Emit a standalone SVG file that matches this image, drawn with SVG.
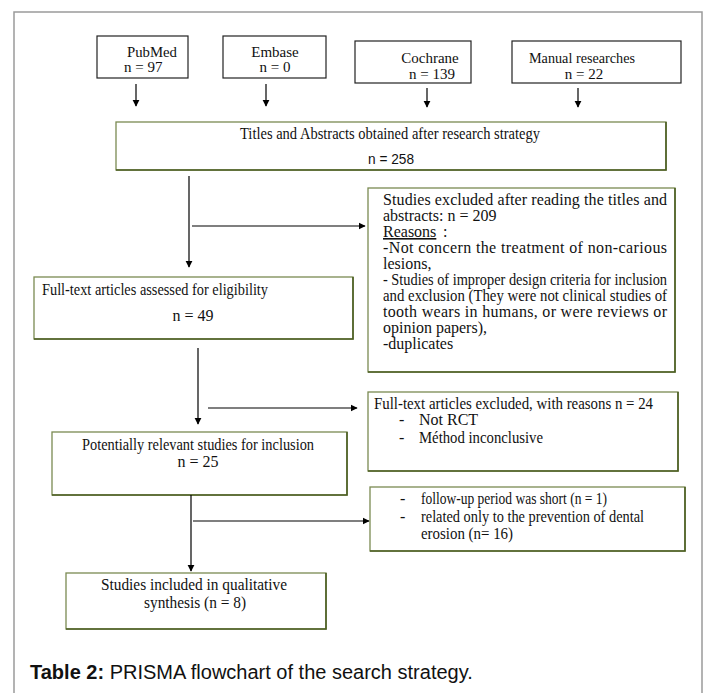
<svg xmlns="http://www.w3.org/2000/svg" width="715" height="693" viewBox="0 0 715 693">
<defs>
<marker id="ah" viewBox="0 0 10 10" refX="9" refY="5" markerWidth="7" markerHeight="8" markerUnits="userSpaceOnUse" orient="auto">
<path d="M0,0 L10,5 L0,10 z" fill="#000"/>
</marker>
<style>
.t{font-family:"Liberation Serif","Times New Roman",serif;font-size:16px;fill:#111}
.h{font-family:"Liberation Serif","Times New Roman",serif;font-size:15px;fill:#111}
.s{font-family:"Liberation Sans",Arial,sans-serif;font-size:15px;fill:#111}
.m{text-anchor:middle}
.bk{fill:#fff;stroke:#222;stroke-width:1.2}
.gb{fill:#fff;stroke:#7a8a52;stroke-width:1.3}
.gs{fill:none;stroke:#4b5e22;stroke-width:1.6}
.ar{fill:none;stroke:#000;stroke-width:1.2;marker-end:url(#ah)}
</style>
</defs>
<rect x="0" y="0" width="715" height="693" fill="#fff"/>
<rect x="14" y="12" width="688" height="700" fill="none" stroke="#9a9a9a" stroke-width="1.5"/>

<g id="pubmed">
<rect class="bk" x="97" y="36" width="91" height="42"/>
<text class="h" x="127" y="57" textLength="50" lengthAdjust="spacingAndGlyphs">PubMed</text>
<text class="h" x="124" y="72">n = 97</text>
</g>
<g id="embase">
<rect class="bk" x="223" y="36" width="103" height="42"/>
<text class="h m" x="275" y="57">Embase</text>
<text class="h m" x="275" y="72">n = 0</text>
</g>
<g id="cochrane">
<rect class="bk" x="355" y="41" width="116" height="42"/>
<text class="h m" x="430" y="63">Cochrane</text>
<text class="h m" x="432" y="79">n = 139</text>
</g>
<g id="manual">
<rect class="bk" x="512" y="41" width="169" height="42"/>
<text class="h" x="529" y="63" textLength="106" lengthAdjust="spacingAndGlyphs">Manual researches</text>
<text class="h m" x="584" y="79">n = 22</text>
</g>

<g id="titles">
<rect class="gb" x="116" y="122" width="550" height="48"/>
<path class="gs" d="M116,170 H666 V122"/>
<text class="t m" x="390" y="139" textLength="300" lengthAdjust="spacingAndGlyphs">Titles and Abstracts obtained after research strategy</text>
<text class="s m" x="391" y="164" textLength="46" lengthAdjust="spacingAndGlyphs">n = 258</text>
</g>

<g id="excluded1">
<rect class="gb" x="368" y="188" width="307" height="184"/>
<path class="gs" d="M368,372 H675 V188"/>
<text class="t" x="383" y="205" textLength="284" lengthAdjust="spacing">Studies excluded after reading the titles and</text>
<text class="t" x="383" y="221">abstracts: n = 209</text>
<text class="t" x="383" y="237" text-decoration="underline">Reasons</text>
<text class="t" x="443" y="237">:</text>
<text class="t" x="383" y="253" textLength="284" lengthAdjust="spacing">-Not concern the treatment of non-carious</text>
<text class="t" x="383" y="269">lesions,</text>
<text class="t" x="383" y="285" textLength="284" lengthAdjust="spacingAndGlyphs">- Studies of improper design criteria for inclusion</text>
<text class="t" x="383" y="301" textLength="284" lengthAdjust="spacingAndGlyphs">and exclusion (They were not clinical studies of</text>
<text class="t" x="383" y="317" textLength="284" lengthAdjust="spacing">tooth wears in humans, or were reviews or</text>
<text class="t" x="383" y="333">opinion papers),</text>
<text class="t" x="383" y="349">-duplicates</text>
</g>

<g id="fulltext">
<rect class="gb" x="34" y="277" width="319" height="62"/>
<path class="gs" d="M34,339 H353 V277"/>
<text class="t" x="42" y="295" textLength="226" lengthAdjust="spacingAndGlyphs">Full-text articles assessed for eligibility</text>
<text class="t m" x="193" y="321">n = 49</text>
</g>

<g id="excluded2">
<rect class="gb" x="368" y="392" width="310" height="79"/>
<path class="gs" d="M368,471 H678 V392"/>
<text class="t" x="374" y="409" textLength="279" lengthAdjust="spacingAndGlyphs">Full-text articles excluded, with reasons   n = 24</text>
<text class="t" x="399" y="425">-</text>
<text class="t" x="419" y="425">Not RCT</text>
<text class="t" x="399" y="443">-</text>
<text class="t" x="419" y="443" textLength="124" lengthAdjust="spacingAndGlyphs">Méthod inconclusive</text>
</g>

<g id="potential">
<rect class="gb" x="52" y="432" width="295" height="63"/>
<path class="gs" d="M52,495 H347 V432"/>
<text class="t m" x="198" y="450" textLength="232" lengthAdjust="spacingAndGlyphs">Potentially relevant studies for inclusion</text>
<text class="t m" x="198" y="467">n = 25</text>
</g>

<g id="followup">
<rect class="gb" x="370" y="487" width="315" height="64"/>
<path class="gs" d="M370,551 H685 V487"/>
<text class="t" x="400" y="504">-</text>
<text class="t" x="421" y="504" textLength="186" lengthAdjust="spacingAndGlyphs">follow-up period was short (n = 1)</text>
<text class="t" x="400" y="522">-</text>
<text class="t" x="421" y="522" textLength="223" lengthAdjust="spacingAndGlyphs">related only to the prevention of dental</text>
<text class="t" x="421" y="539" textLength="92" lengthAdjust="spacingAndGlyphs">erosion (n= 16)</text>
</g>

<g id="included">
<rect class="gb" x="66" y="573" width="260" height="56"/>
<path class="gs" d="M66,629 H326 V573"/>
<text class="t m" x="194" y="590" textLength="186" lengthAdjust="spacingAndGlyphs">Studies included in qualitative</text>
<text class="t m" x="195" y="608" textLength="102" lengthAdjust="spacingAndGlyphs">synthesis (n = 8)</text>
</g>

<g id="connectors">
<line class="ar" x1="136" y1="84" x2="136" y2="106"/>
<line class="ar" x1="266" y1="84" x2="266" y2="106"/>
<line class="ar" x1="427" y1="88" x2="427" y2="107"/>
<line class="ar" x1="578" y1="88" x2="578" y2="107"/>
<line class="ar" x1="189" y1="176" x2="189" y2="267"/>
<line class="ar" x1="192" y1="226" x2="365" y2="226"/>
<line class="ar" x1="198" y1="348" x2="198" y2="424"/>
<line class="ar" x1="208" y1="408" x2="357" y2="408"/>
<line class="ar" x1="191" y1="495" x2="191" y2="571"/>
<line class="ar" x1="193" y1="521" x2="369" y2="521"/>
</g>

<text x="30" y="679" font-family="Liberation Sans, Arial, sans-serif" font-size="20" fill="#111"><tspan font-weight="bold">Table 2:</tspan> PRISMA flowchart of the search strategy.</text>
</svg>
